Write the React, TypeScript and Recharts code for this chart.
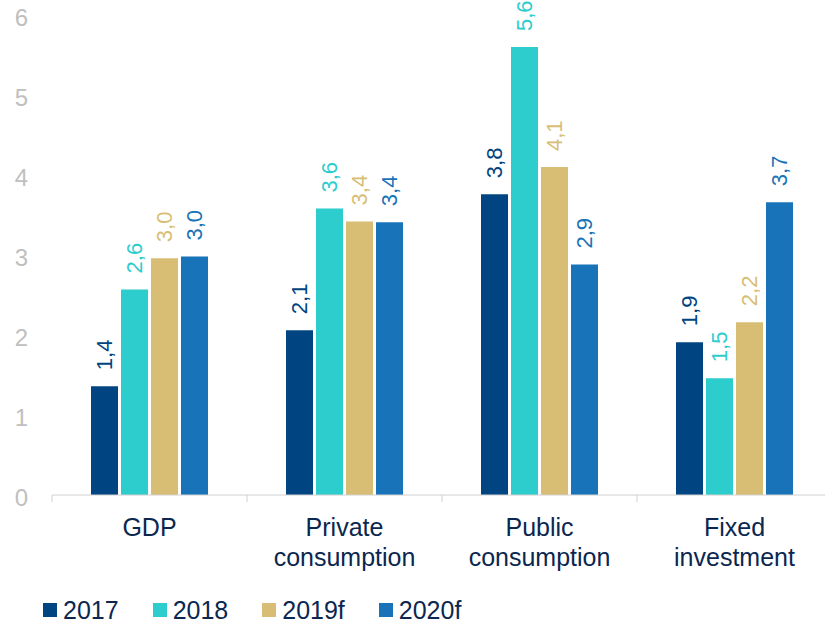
import React from "react";
import { BarChart, Bar, XAxis, YAxis, LabelList } from "recharts";

const categories = ["GDP", "Private\nconsumption", "Public\nconsumption", "Fixed\ninvestment"];
const seriesNames = ["2017", "2018", "2019f", "2020f"];
const values2017 = [1.36, 2.06, 3.76, 1.91];
const values2018 = [2.57, 3.58, 5.6, 1.46];
const values2019 = [2.96, 3.42, 4.1, 2.16];
const values2020 = [2.98, 3.41, 2.88, 3.66];
const yTicks = [0, 1, 2, 3, 4, 5, 6];

const colors = ["#004481", "#2DCCCD", "#D8BE75", "#1973B8"];
const textColor = "#0B2750";

const data = categories.map((c, i) => ({
  category: c,
  s0: values2017[i],
  s1: values2018[i],
  s2: values2019[i],
  s3: values2020[i],
}));

const BAND = 195;

function CategoryTick(props: any) {
  const { x, y, payload } = props;
  const lines = String(payload.value).split("\n");
  const left = x - BAND / 2;
  return (
    <g>
      <line x1={left} x2={left} y1={y} y2={y + 7} stroke="#D0D0D0" strokeWidth={1} />
      <text textAnchor="middle" fill={textColor} fontSize={25}>
        {lines.map((l, i) => (
          <tspan key={i} x={x} y={y + 41 + i * 30}>
            {l}
          </tspan>
        ))}
      </text>
    </g>
  );
}

function makeLabel(color: string) {
  return (props: any) => {
    const { x, y, width, value } = props;
    const cx = x + width / 2;
    const ty = y - 16;
    return (
      <text
        x={cx}
        y={ty}
        transform={`rotate(-90, ${cx}, ${ty})`}
        textAnchor="start"
        dominantBaseline="central"
        fill={color}
        fontSize={22}
      >
        {Number(value).toFixed(1).replace(".", ",")}
      </text>
    );
  };
}

function ChartLegend() {
  return (
    <div style={{ position: "absolute", left: 43, top: 596, display: "flex", alignItems: "center" }}>
      {seriesNames.map((n, i) => (
        <div key={n} style={{ display: "flex", alignItems: "center", marginRight: 34 }}>
          <div style={{ width: 14, height: 14, background: colors[i], marginRight: 6 }} />
          <span style={{ fontSize: 25, color: textColor, lineHeight: "28px" }}>{n}</span>
        </div>
      ))}
    </div>
  );
}

export default function App() {
  return (
    <div
      style={{
        width: 825,
        height: 623,
        overflow: "hidden",
        position: "fixed",
        left: 0,
        top: 0,
        background: "#fff",
        fontFamily: "'Liberation Sans', Arial, sans-serif",
      }}
    >
      <BarChart
        width={840}
        height={623}
        data={data}
        margin={{ top: 15, right: 8, bottom: 0, left: 0 }}
        barCategoryGap={39}
        barGap={3}
        style={{ overflow: "visible" }}
      >
        <XAxis
          dataKey="category"
          axisLine={{ stroke: "#D0D0D0" }}
          tickLine={false}
          tickSize={0}
          tickMargin={0}
          interval={0}
          tick={<CategoryTick />}
          height={128}
        />
        <YAxis
          domain={[0, 6]}
          ticks={yTicks}
          width={52}
          axisLine={false}
          tickLine={false}
          tickSize={0}
          tickMargin={24}
          tick={{ fill: "#BFBFBF", fontSize: 24, dy: 2 }}
        />
        {["s0", "s1", "s2", "s3"].map((k, i) => (
          <Bar key={k} dataKey={k} name={seriesNames[i]} fill={colors[i]} isAnimationActive={false}>
            <LabelList dataKey={k} content={makeLabel(colors[i])} />
          </Bar>
        ))}
      </BarChart>
      <ChartLegend />
    </div>
  );
}
